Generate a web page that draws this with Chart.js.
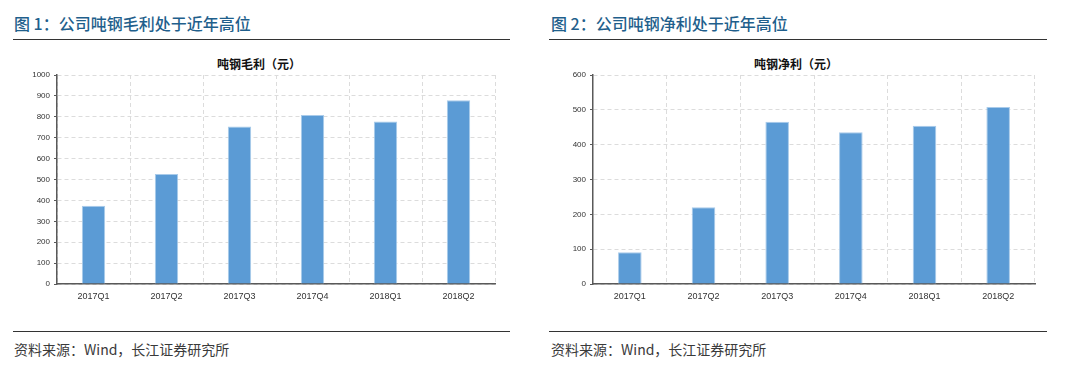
<!DOCTYPE html>
<html>
<head>
<meta charset="utf-8">
<script src="https://cdn.jsdelivr.net/npm/chart.js@4.4.1/dist/chart.umd.min.js"></script>
<style>
  html, body { margin: 0; padding: 0; background: #fff; }
  body { width: 1080px; height: 377px; position: relative; overflow: hidden;
         font-family: "Noto Sans CJK SC", "Liberation Sans", sans-serif; }
  .head { position: absolute; top: 11px; font-size: 16px; font-weight: 500; color: #1f5f8c; white-space: nowrap; }
  .rule { position: absolute; height: 0; border-top: 1.5px solid #333; }
  .ctitle { position: absolute; top: 55px; width: 200px; text-align: center; font-size: 12px;
            font-weight: bold; color: #111; }
  .src { position: absolute; top: 339px; font-size: 14px; color: #3a3a3a; white-space: nowrap; }
  canvas { position: absolute; }
</style>
</head>
<body>
  <div class="head" style="left:14px">图 1：公司吨钢毛利处于近年高位</div>
  <div class="rule" style="left:13px; width:497px; top:39px"></div>
  <div class="head" style="left:551px">图 2：公司吨钢净利处于近年高位</div>
  <div class="rule" style="left:549px; width:498px; top:39px"></div>

  <div class="ctitle" style="left:159px">吨钢毛利（元）</div>
  <div class="ctitle" style="left:696px">吨钢净利（元）</div>

  <canvas id="grossChart" width="540" height="255" style="left:0; top:65px"></canvas>
  <canvas id="netChart" width="540" height="255" style="left:540px; top:65px"></canvas>

  <div class="rule" style="left:13px; width:497px; top:331px"></div>
  <div class="rule" style="left:549px; width:498px; top:331px"></div>
  <div class="src" style="left:14px">资料来源：Wind，长江证券研究所</div>
  <div class="src" style="left:551px">资料来源：Wind，长江证券研究所</div>

<script>
const quarters = ['2017Q1', '2017Q2', '2017Q3', '2017Q4', '2018Q1', '2018Q2'];
const grossProfit = [375, 526, 753, 809, 778, 879];
const netProfit = [91, 220, 466, 436, 454, 508];
const grossTicks = { max: 1000, step: 100 };
const netTicks = { max: 600, step: 100 };

function makeChart(id, values, yCfg, yWidth) {
    const ctx = document.getElementById(id).getContext('2d');
    return new Chart(ctx, {
        type: 'bar',
        data: {
            labels: quarters,
            datasets: [{
                data: values,
                backgroundColor: '#5b9bd5',
                borderColor: '#a9cbea',
                borderWidth: 1,
                barPercentage: 0.32,
                categoryPercentage: 1
            }]
        },
        options: {
            responsive: false,
            animation: false,
            devicePixelRatio: 1,
            layout: { padding: { top: 10, right: 45, left: 0, bottom: 0 } },
            plugins: { legend: { display: false }, tooltip: { enabled: false } },
            scales: {
                x: {
                    grid: { offset: true, color: '#dcdcdc', drawTicks: false },
                    // in v4 border.dash is the dash of the grid lines
                    border: { color: '#595959', width: 1.5, dash: [4, 3] },
                    ticks: {
                        padding: 7,
                        color: '#333',
                        font: { family: 'Liberation Sans', size: 9 }
                    },
                    afterFit: (scale) => { scale.height = 36; }
                },
                y: {
                    min: 0,
                    max: yCfg.max,
                    grid: { color: '#dcdcdc', tickColor: '#595959', tickLength: 3 },
                    border: { color: '#595959', width: 1.5, dash: [4, 3] },
                    ticks: {
                        stepSize: yCfg.step,
                        padding: 4,
                        color: '#333',
                        font: { family: 'Liberation Sans', size: 8 },
                        callback: (v) => String(v)
                    },
                    afterFit: (scale) => { scale.width = yWidth; }
                }
            }
        }
    });
}

makeChart('grossChart', grossProfit, grossTicks, 57);
makeChart('netChart', netProfit, netTicks, 53);
</script>
</body>
</html>
